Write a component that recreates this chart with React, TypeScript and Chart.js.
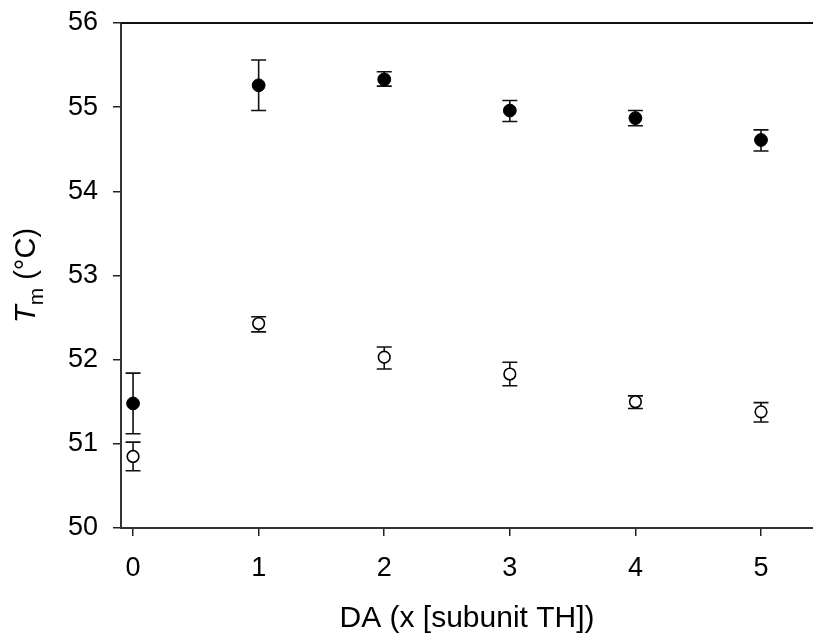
import React, { useEffect, useRef } from "react";
import { Chart, registerables } from "chart.js";

Chart.register(...registerables);

// ---- data ----
const xValues = [0, 1, 2, 3, 4, 5];
const filledMean = [51.48, 55.26, 55.33, 54.96, 54.87, 54.61];
const filledLow = [51.12, 54.96, 55.25, 54.83, 54.78, 54.48];
const filledHigh = [51.84, 55.56, 55.42, 55.08, 54.96, 54.73];
const openMean = [50.85, 52.43, 52.03, 51.83, 51.5, 51.38];
const openLow = [50.68, 52.33, 51.89, 51.69, 51.42, 51.26];
const openHigh = [51.02, 52.51, 52.15, 51.97, 51.57, 51.49];
const xTicks = [0, 1, 2, 3, 4, 5];
const yTicks = [50, 51, 52, 53, 54, 55, 56];
const xTitle = "DA (x [subunit TH])";
const yTitleMain = "T";
const yTitleSub = "m";
const yTitleRest = " (°C)";

const FONT = "'Liberation Sans', Arial, sans-serif";

const errorBarPlugin = {
  id: "errorBars",
  beforeDatasetsDraw(chart: any) {
    const { ctx } = chart;
    const xs = chart.scales.x;
    const ys = chart.scales.y;
    ctx.save();
    ctx.strokeStyle = "#111";
    ctx.lineWidth = 1.6;
    chart.data.datasets.forEach((ds: any) => {
      ds.data.forEach((p: any, i: number) => {
        const px = xs.getPixelForValue(p.x);
        const pLo = ys.getPixelForValue(ds.errLow[i]);
        const pHi = ys.getPixelForValue(ds.errHigh[i]);
        const cap = 7.5;
        ctx.beginPath();
        ctx.moveTo(px, pLo);
        ctx.lineTo(px, pHi);
        ctx.moveTo(px - cap, pLo);
        ctx.lineTo(px + cap, pLo);
        ctx.moveTo(px - cap, pHi);
        ctx.lineTo(px + cap, pHi);
        ctx.stroke();
      });
    });
    ctx.restore();
  },
};

const framePlugin = {
  id: "frame",
  afterDraw(chart: any) {
    const { ctx, chartArea } = chart;
    ctx.save();
    // top line
    ctx.strokeStyle = "#111";
    ctx.lineWidth = 2;
    ctx.beginPath();
    ctx.moveTo(chartArea.left, chartArea.top);
    ctx.lineTo(chartArea.right, chartArea.top);
    ctx.stroke();

    // y title: T (italic) + m (subscript) + " (°C)"
    const mainSize = 29;
    const subSize = 21;
    const fMainIt = `italic ${mainSize}px ${FONT}`;
    const fMain = `${mainSize}px ${FONT}`;
    const fSub = `${subSize}px ${FONT}`;
    ctx.font = fMainIt;
    const w1 = ctx.measureText(yTitleMain).width;
    ctx.font = fSub;
    const w2 = ctx.measureText(yTitleSub).width;
    ctx.font = fMain;
    const w3 = ctx.measureText(yTitleRest).width;
    const total = w1 + w2 + w3;
    const cx = 35;
    const cy = (chartArea.top + chartArea.bottom) / 2;
    ctx.translate(cx, cy);
    ctx.rotate(-Math.PI / 2);
    ctx.fillStyle = "#000";
    ctx.textBaseline = "alphabetic";
    ctx.textAlign = "left";
    let x = -total / 2;
    ctx.font = fMainIt;
    ctx.fillText(yTitleMain, x, 0);
    x += w1;
    ctx.font = fSub;
    ctx.fillText(yTitleSub, x, 8);
    x += w2;
    ctx.font = fMain;
    ctx.fillText(yTitleRest, x, 0);
    ctx.restore();
  },
};

export default function App() {
  const canvasRef = useRef<HTMLCanvasElement | null>(null);

  useEffect(() => {
    document.body.style.margin = "0";
    const canvas = canvasRef.current;
    if (!canvas) return;

    const chart = new Chart(canvas, {
      type: "scatter",
      data: {
        datasets: [
          {
            label: "filled",
            data: xValues.map((x, i) => ({ x, y: filledMean[i] })),
            errLow: filledLow,
            errHigh: filledHigh,
            pointRadius: 6.4,
            pointBackgroundColor: "#000",
            pointBorderColor: "#000",
            pointBorderWidth: 1,
            showLine: false,
          } as any,
          {
            label: "open",
            data: xValues.map((x, i) => ({ x, y: openMean[i] })),
            errLow: openLow,
            errHigh: openHigh,
            pointRadius: 5.8,
            pointBackgroundColor: "#fff",
            pointBorderColor: "#000",
            pointBorderWidth: 1.6,
            showLine: false,
          } as any,
        ],
      },
      options: {
        responsive: false,
        animation: false,
        layout: { autoPadding: false, padding: { top: 23, left: 0, right: 0, bottom: 0 } },
        plugins: {
          legend: { display: false },
          tooltip: { enabled: false },
        },
        scales: {
          x: {
            type: "linear",
            min: -0.096,
            max: 5.414,
            afterBuildTicks: (scale: any) => {
              scale.ticks = xTicks.map((v) => ({ value: v }));
            },
            afterFit: (scale: any) => {
              scale.height = 109;
              scale.paddingLeft = 0;
              scale.paddingRight = 0;
            },
            grid: {
              drawOnChartArea: false,
              drawTicks: true,
              tickLength: 8,
              color: "#222",
              lineWidth: 1.5,
            },
            border: { display: true, color: "#333", width: 2 },
            ticks: {
              color: "#000",
              font: { family: FONT, size: 27 },
              padding: 16,
              maxRotation: 0,
              callback: (v: any) => String(v),
            },
            title: {
              display: true,
              text: xTitle,
              color: "#000",
              font: { family: FONT, size: 30 },
              padding: { top: 0, bottom: 0 },
            },
          },
          y: {
            type: "linear",
            min: 50,
            max: 56,
            afterBuildTicks: (scale: any) => {
              scale.ticks = yTicks.map((v) => ({ value: v }));
            },
            afterFit: (scale: any) => {
              scale.width = 121;
              scale.paddingTop = 0;
              scale.paddingBottom = 0;
            },
            grid: {
              drawOnChartArea: false,
              drawTicks: true,
              tickLength: 8,
              color: "#222",
              lineWidth: 1.5,
            },
            border: { display: true, color: "#333", width: 2 },
            ticks: {
              color: "#000",
              font: { family: FONT, size: 27 },
              padding: 15,
              callback: (v: any) => String(v),
            },
          },
        },
      },
      plugins: [errorBarPlugin, framePlugin],
    });

    return () => {
      chart.destroy();
    };
  }, []);

  return (
    <canvas
      ref={canvasRef}
      width={813}
      height={637}
      style={{ display: "block", width: 813, height: 637 }}
    />
  );
}
